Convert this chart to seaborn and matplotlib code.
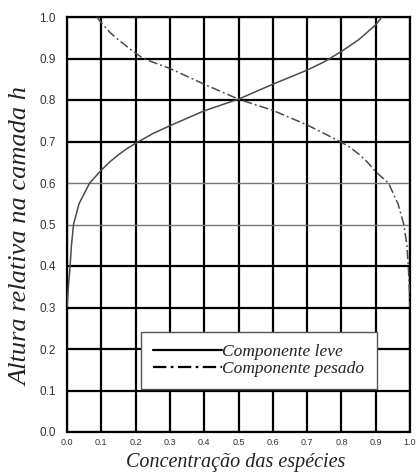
import matplotlib
matplotlib.use("Agg")
import matplotlib.pyplot as plt
import seaborn as sns
import pandas as pd

# Relative height h in the layer versus species concentration
leve_conc = [0.0, 0.004, 0.009, 0.013, 0.019, 0.035, 0.066, 0.10, 0.125, 0.15, 0.175, 0.203,
             0.25, 0.30, 0.40, 0.50, 0.60, 0.70, 0.75, 0.80, 0.85, 0.90, 0.918]
leve_h = [0.30, 0.35, 0.40, 0.45, 0.50, 0.55, 0.60, 0.631, 0.651, 0.668, 0.683, 0.697,
          0.719, 0.738, 0.774, 0.802, 0.838, 0.872, 0.892, 0.917, 0.945, 0.981, 1.0]

pesado_conc = [0.087, 0.10, 0.125, 0.15, 0.185, 0.222, 0.30, 0.40, 0.50, 0.60, 0.70, 0.796,
               0.825, 0.85, 0.875, 0.90, 0.937, 0.965, 0.982, 0.991, 0.995, 0.998, 1.0]
pesado_h = [1.0, 0.986, 0.963, 0.945, 0.922, 0.90, 0.876, 0.838, 0.802, 0.775, 0.740, 0.70,
            0.686, 0.67, 0.651, 0.627, 0.60, 0.55, 0.50, 0.45, 0.40, 0.35, 0.30]

x_ticks = [0.0, 0.1, 0.2, 0.3, 0.4, 0.5, 0.6, 0.7, 0.8, 0.9, 1.0]
y_ticks = [0.0, 0.1, 0.2, 0.3, 0.4, 0.5, 0.6, 0.7, 0.8, 0.9, 1.0]
thin_rows = [0.5, 0.6]

sns.set_style("white")
plt.rcParams["font.family"] = ["Liberation Sans", "DejaVu Sans"]

fig = plt.figure(figsize=(4.17, 4.72), dpi=100)
ax = fig.add_axes([67 / 417, 1 - 432 / 472, 343 / 417, 415 / 472])

leve = pd.DataFrame({"conc": leve_conc, "h": leve_h})
pesado = pd.DataFrame({"conc": pesado_conc, "h": pesado_h})

sns.lineplot(data=leve, x="conc", y="h", sort=False, estimator=None, ax=ax,
             color="#4a4a4a", lw=1.1, label="Componente leve", zorder=3)
sns.lineplot(data=pesado, x="conc", y="h", sort=False, estimator=None, ax=ax,
             color="#4a4a4a", lw=1.1, label="Componente pesado", zorder=3)
ax.lines[1].set_dashes([6, 2, 1.2, 2])

ax.set_xlim(0, 1.0)
ax.set_ylim(0, 1.0)
ax.set_xticks(x_ticks)
ax.set_yticks(y_ticks)
ax.set_xticklabels([f"{v:.1f}" for v in x_ticks], fontsize=6.5, color="#333333")
ax.set_yticklabels([f"{v:.1f}" for v in y_ticks], fontsize=8.5, color="#333333")
ax.tick_params(axis="both", length=0)
ax.tick_params(axis="y", pad=8)
ax.tick_params(axis="x", pad=4)

ax.grid(True, color="black", lw=1.6, zorder=1)
for gl, v in zip(ax.yaxis.get_gridlines(), y_ticks):
    if v in thin_rows:
        gl.set_color("#777777")
        gl.set_linewidth(1.0)

for sp in ax.spines.values():
    sp.set_visible(True)
    sp.set_color("black")
    sp.set_linewidth(1.6)

ax.set_xlabel("Concentração das espécies", family="Liberation Serif",
              style="italic", fontsize=14.5, color="#222222")
ax.set_ylabel("Altura relativa na camada h", family="Liberation Serif",
              style="italic", fontsize=19, color="#222222")
ax.xaxis.set_label_coords(0.493, -0.05)
ax.yaxis.set_label_coords(-0.10, 0.47)

leg = ax.legend(loc="upper left", bbox_to_anchor=(0.19, 0.262), frameon=True,
                fancybox=False, handlelength=4.0, handletextpad=0.0,
                borderpad=0.7, labelspacing=0.05,
                prop=dict(family="Liberation Serif", style="italic", size=12.5))
leg.get_frame().set_edgecolor("#555555")
leg.get_frame().set_linewidth(1.0)
leg.get_frame().set_alpha(1.0)
for line in leg.get_lines():
    line.set_color("black")
    line.set_linewidth(1.6)
for t in leg.get_texts():
    t.set_color("#222222")

fig.savefig("out.png", dpi=100)
